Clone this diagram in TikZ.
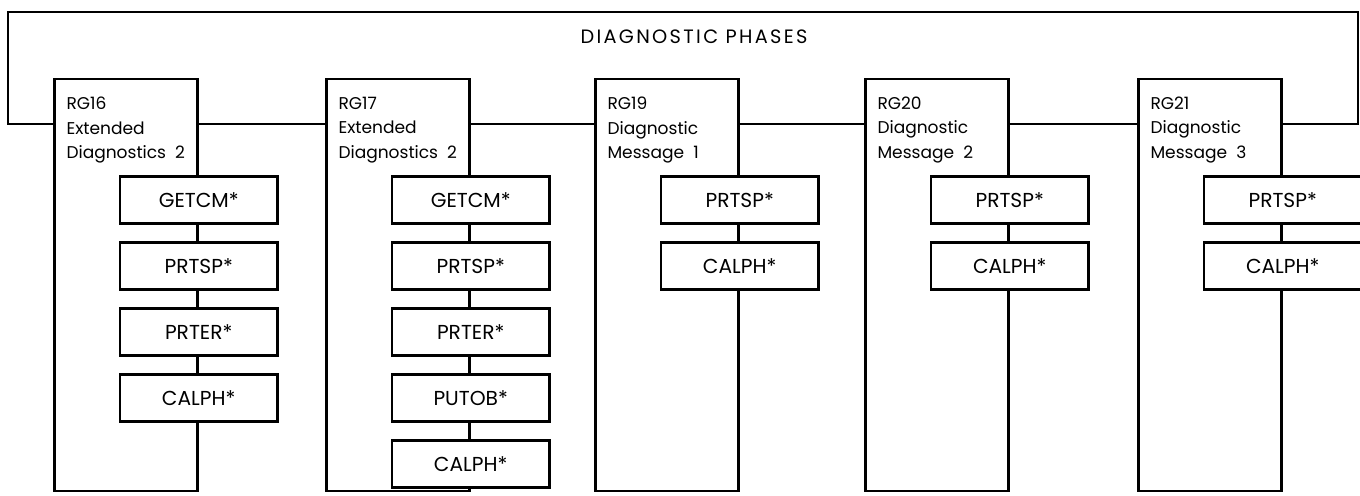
\documentclass[tikz,border=0pt]{standalone}
\usepackage{fontspec}
\setmainfont{Poppins}
\usetikzlibrary{positioning}

\begin{document}
\begin{tikzpicture}[
  x=0.02cm, y=-0.02cm,
  line width=1.4pt,
  every node/.style={font=\fontsize{9.7}{13.9}\selectfont},
  phase/.style={draw, rectangle, minimum width=2.86cm, minimum height=8.24cm,
                inner sep=0pt},
  rname/.style={align=left, inner sep=0pt},
  sub/.style={draw, fill=white, minimum width=3.16cm, minimum height=0.94cm,
              inner sep=0pt, font=\fontsize{11.5}{13}\selectfont},
  node distance=0.33cm,
]
\useasboundingbox (0,0) rectangle (1360,496);
\coordinate (row) at (0,200);
\coordinate (link) at (0,124);
\coordinate (fl) at (8,12);
\coordinate (fr) at (1358,12);

\node[font=\fontsize{11}{13}\selectfont\addfontfeatures{LetterSpace=12}]
  (title) at (694,37) {DIAGNOSTIC PHASES};

% phase boxes
\node[phase] (p16) at (126,285)  {};
\node[phase] (p17) at (398,285)  {};
\node[phase] (p19) at (667,285)  {};
\node[phase] (p20) at (937,285)  {};
\node[phase] (p21) at (1210,285) {};

\node[rname, below right=0.36cm and 0.24cm of p16.north west] (n16)
  {RG16\\Extended\\Diagnostics~~2};
\node[rname, below right=0.36cm and 0.24cm of p17.north west] (n17)
  {RG17\\Extended\\Diagnostics~~2};
\node[rname, below right=0.36cm and 0.24cm of p19.north west] (n19)
  {RG19\\Diagnostic\\Message~~1};
\node[rname, below right=0.36cm and 0.24cm of p20.north west] (n20)
  {RG20\\Diagnostic\\Message~~2};
\node[rname, below right=0.36cm and 0.24cm of p21.north west] (n21)
  {RG21\\Diagnostic\\Message~~3};

% links between the phases
\draw (p16.west |- link) -- (fl |- link) -- (fl) -- (fr) -- (fr |- link)
  -- (p21.east |- link);
\draw (p16.east |- link) -- (p17.west |- link);
\draw (p17.east |- link) -- (p19.west |- link);
\draw (p19.east |- link) -- (p20.west |- link);
\draw (p20.east |- link) -- (p21.west |- link);

% routines called by each phase
\node[sub] (s16a) at (p16.east |- row) {GETCM*};
\node[sub, below=of s16a] (s16b) {PRTSP*};
\node[sub, below=of s16b] (s16c) {PRTER*};
\node[sub, below=of s16c] (s16d) {CALPH*};

\node[sub] (s17a) at (p17.east |- row) {GETCM*};
\node[sub, below=of s17a] (s17b) {PRTSP*};
\node[sub, below=of s17b] (s17c) {PRTER*};
\node[sub, below=of s17c] (s17d) {PUTOB*};
\node[sub, below=of s17d] (s17e) {CALPH*};

\node[sub] (s19a) at (p19.east |- row) {PRTSP*};
\node[sub, below=of s19a] (s19b) {CALPH*};

\node[sub] (s20a) at (p20.east |- row) {PRTSP*};
\node[sub, below=of s20a] (s20b) {CALPH*};

\node[sub] (s21a) at (p21.east |- row) {PRTSP*};
\node[sub, below=of s21a] (s21b) {CALPH*};
\end{tikzpicture}
\end{document}
